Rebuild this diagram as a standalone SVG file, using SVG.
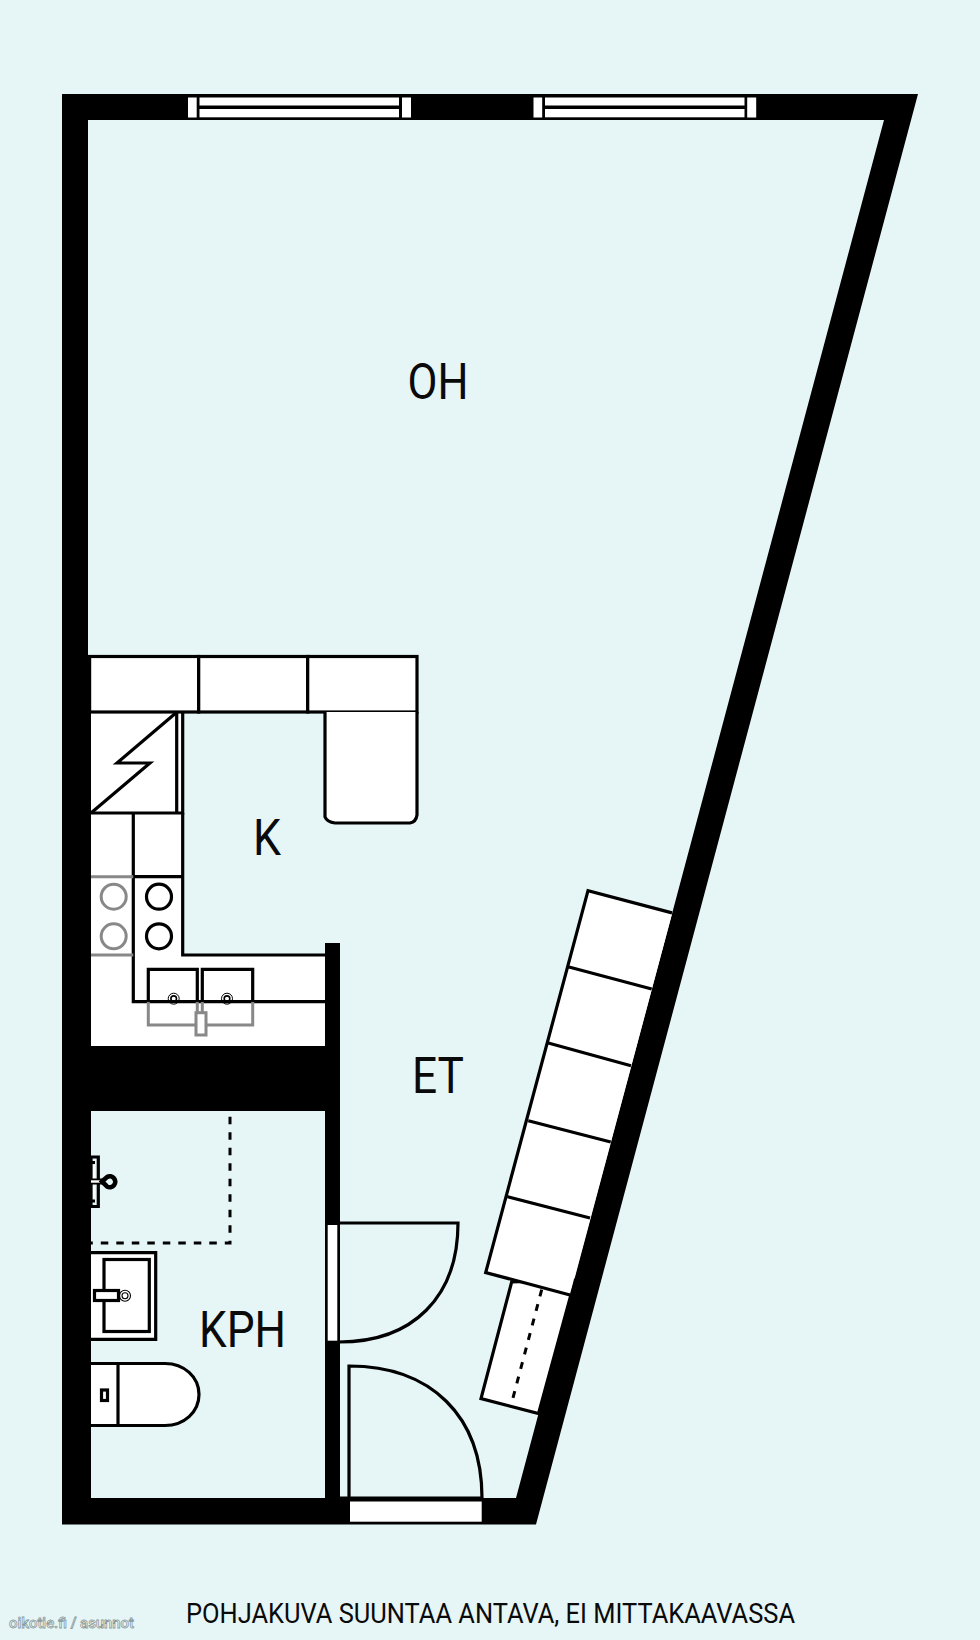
<svg xmlns="http://www.w3.org/2000/svg" width="980" height="1640" viewBox="0 0 980 1640">
<style>
.o{fill:none;stroke:#000;stroke-width:3.2}
.w{fill:#fff;stroke:#000;stroke-width:3.2}
.g{fill:none;stroke:#888;stroke-width:3}
.gw{fill:#fff;stroke:#888;stroke-width:3}
.p{fill:#fff}
.d{fill:none;stroke:#000;stroke-width:3;stroke-dasharray:7.5 8}
.t{font-family:Roboto,"Liberation Sans",sans-serif;font-size:50px;fill:#0a0a0a}
</style>
<rect id="background" width="980" height="1640" fill="#e6f5f6"/>
<path id="walls" fill="#000" fill-rule="evenodd" d="M62,94H918L536,1524.5H62Z M88,120H884L516,1498H340V943H325V1046H91V655H88Z M91,1111H325V1498H91Z"/>
<g id="windows">
<rect class="p" x="188" y="97.5" width="8.7" height="20"/>
<rect class="p" x="199.5" y="97.5" width="199.5" height="8"/>
<rect class="p" x="199.5" y="109" width="199.5" height="8.3"/>
<rect class="p" x="402" y="97.5" width="9" height="20"/>
<rect class="p" x="533.5" y="97.5" width="8.7" height="20"/>
<rect class="p" x="545" y="97.5" width="199.5" height="8"/>
<rect class="p" x="545" y="109" width="199.5" height="8.3"/>
<rect class="p" x="747.2" y="97.5" width="9" height="20"/>
</g>
<g id="kitchen">
<rect class="p" x="91" y="712" width="92" height="334"/>
<rect class="p" x="91" y="955" width="234" height="91"/>
<rect class="w" x="89.6" y="656.5" width="109.1" height="55.5"/>
<rect class="w" x="198.7" y="656.5" width="109" height="55.5"/>
<rect class="w" x="307.7" y="656.5" width="109.3" height="55.5"/>
<path class="w" d="M325,712V817Q327,822 335,823H410Q416,822 417,815V712"/>
<path class="o" d="M91,813H182.7V712M176.7,712V813"/>
<path class="o" d="M177,712L117,763H150L91,813"/>
<path class="o" d="M182.7,813V955H325M133.3,813V1001.7H325M133.3,876.7H182.7"/>
<path class="g" d="M91,876.7H133.3M91,955H133.3"/>
<circle class="g" cx="113.7" cy="896.7" r="12.5"/>
<circle class="g" cx="113.7" cy="936.3" r="12.5"/>
<circle class="o" cx="159" cy="896.7" r="12.5"/>
<circle class="o" cx="159" cy="936.3" r="12.5"/>
<path class="g" d="M148.3,1001.7V1025H197M252.7,1001.7V1025H206M197.3,1001.7V1013M202.3,1001.7V1013"/>
<path class="o" d="M148.3,1001.7V969.3H197.3V1001.7M202.3,1001.7V969.3H252.7V1001.7"/>
<rect class="gw" x="196" y="1012.7" width="10" height="22.3"/>
<circle class="o" style="stroke-width:1" cx="173.7" cy="998.7" r="5.5"/>
<circle class="o" style="stroke-width:1.6" cx="173.7" cy="998.7" r="2.8"/>
<circle class="o" style="stroke-width:1" cx="227" cy="998.7" r="5.5"/>
<circle class="o" style="stroke-width:1.6" cx="227" cy="998.7" r="2.8"/>
</g>
<g id="bathroom">
<path class="d" d="M230,1116.7V1243H91"/>
<path class="w" style="fill:#e6f5f6" d="M91,1157H98.3V1206.5H91Z"/>
<path class="o" d="M91,1162.5H95M91,1201H95" style="stroke-width:3"/>
<path class="o" d="M94,1165V1178M94,1186V1198" style="stroke-width:1.5;stroke:#fff"/>
<path class="o" d="M91,1181.5H103" style="stroke-width:6"/>
<path class="p" d="M91,1180.3H101V1182.7H91Z"/>
<path class="o" style="fill:#e6f5f6;stroke-width:4.6" d="M102,1181.5L107,1177A5.5,5.5 0 1 1 107,1186.5Z"/>
<path class="w" d="M91,1252.7H155.7V1339.3H91"/>
<rect class="o" x="104" y="1259.5" width="45.3" height="72"/>
<rect class="w" x="94.5" y="1290.5" width="24" height="10"/>
<circle class="o" style="stroke-width:1.1" cx="125" cy="1295.7" r="5.5"/>
<circle class="o" style="stroke-width:1.1" cx="125" cy="1295.7" r="3"/>
<path class="w" d="M91,1363.5H165C184,1363.5 199,1377 199,1394.5C199,1412 184,1425.5 165,1425.5H91"/>
<path class="o" d="M118,1363.5V1425.5"/>
<rect class="o" x="101.5" y="1390" width="6" height="10.5"/>
</g>
<g id="doors">
<rect class="p" x="327.7" y="1225" width="9.6" height="115.7"/>
<path class="o" d="M339,1223H458C458,1297 413,1342 339,1342"/>
<rect class="p" x="350" y="1501.5" width="131.7" height="20.2"/>
<path class="o" d="M349,1498V1366C431,1366 482,1416 482,1498"/>
<path class="o" d="M340,1498H482"/>
</g>
<g id="wardrobe">
<path class="w" d="M511.7,1281.8L481,1398.6L538.5,1413.6L575,1280Z"/>
<path class="o" style="stroke-width:3;stroke-dasharray:7 8" d="M541.7,1289.6L512.3,1400.4"/>
<path class="p" d="M672,914L570,1294L486,1272L589,892Z"/>
<path class="o" d="M672,912.9L588,890.7L485.7,1272.5L570,1295M569,967L651.7,989M548.3,1043L631,1065.7M528.3,1120.7L610.7,1142M507.7,1196.8L590,1218"/>
</g>
<g id="labels">
<text class="t" x="407.5" y="399" textLength="61" lengthAdjust="spacingAndGlyphs">OH</text>
<text class="t" x="253" y="855" textLength="28" lengthAdjust="spacingAndGlyphs">K</text>
<text class="t" x="412" y="1093" textLength="52" lengthAdjust="spacingAndGlyphs">ET</text>
<text class="t" x="199" y="1346.7" textLength="87" lengthAdjust="spacingAndGlyphs">KPH</text>
<text x="186" y="1623" textLength="609" lengthAdjust="spacingAndGlyphs" style="font-family:Roboto,'Liberation Sans',sans-serif;font-size:28px;fill:#0a0a0a">POHJAKUVA SUUNTAA ANTAVA, EI MITTAKAAVASSA</text>
<text x="9" y="1628" textLength="125" lengthAdjust="spacingAndGlyphs" style="font-family:Roboto,'Liberation Sans',sans-serif;font-size:15px;font-weight:500;fill:#f4fbfb;stroke:#8a9a9c;stroke-width:.8">oikotie.fi / asunnot</text>
</g>
</svg>
